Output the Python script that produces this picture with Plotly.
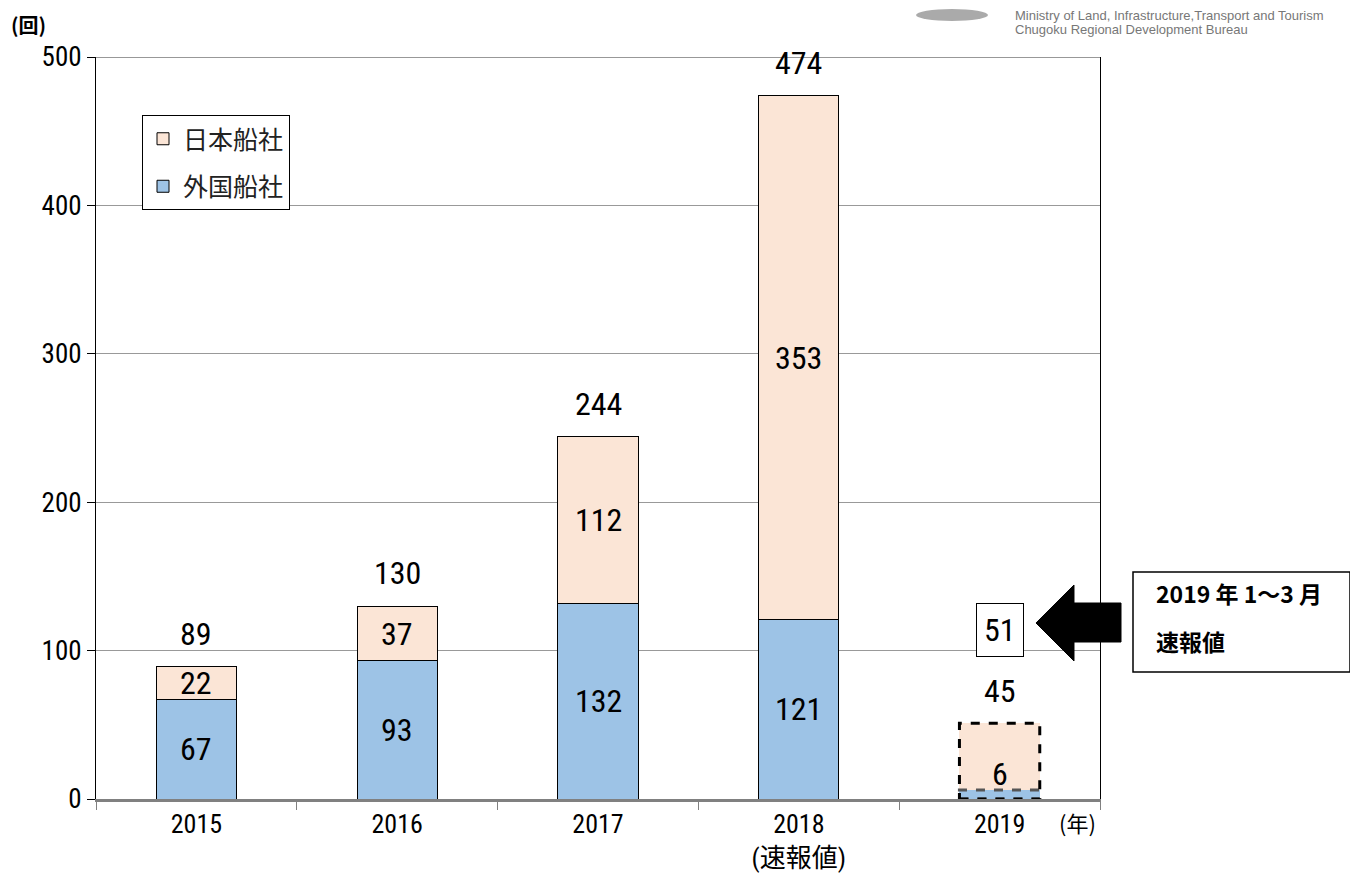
import plotly.graph_objects as go

# ---- data ----
years = ["2015", "2016", "2017", "2018", "2019"]
tick_labels = ["2015", "2016", "2017", "2018<br>(速報値)", "2019"]
foreign = [67, 93, 132, 121, 6]
japanese = [22, 37, 112, 353, 45]
totals = [89, 130, 244, 474, 51]
series_names = ["外国船社", "日本船社"]

BLUE = "#9DC3E6"
PEACH = "#FBE5D6"
NUM_FONT = "Liberation Sans Narrow, Roboto Condensed, DejaVu Sans Condensed, Noto Sans CJK JP"
JP_FONT = "Noto Sans CJK JP"

# page has an 8px body margin; work in page pixels and convert
OFF = 8
PAGE_W, PAGE_H = 1358, 881
W, H = PAGE_W - OFF, PAGE_H - OFF
L, R, T, B = 96, 1100, 57, 799  # plot area in page pixels
def px(xp):
    return (xp - L) / (R - L)
def py(yp):
    return (B - yp) / (B - T)

fig = go.Figure()
line_w = [1, 1, 1, 1, 0]
fig.add_trace(go.Bar(x=years, y=foreign, name=series_names[0], legendrank=2, legendgroup="f",
                     marker=dict(color=BLUE, line=dict(color="black", width=line_w)), width=0.4))
fig.add_trace(go.Bar(x=years, y=japanese, name=series_names[1], legendrank=1, legendgroup="j",
                     marker=dict(color=PEACH, line=dict(color="black", width=line_w)), width=0.4))

ann = []
n = len(years)
lab_font = dict(size=32, family=NUM_FONT, color="black")
for i in range(n):
    last = (i == n - 1)
    fy = foreign[i] / 2
    jy = foreign[i] + japanese[i] / 2
    if last:
        fy = foreign[i] + 11  # label lifted above tiny segment
        jy = totals[i] + 22   # label placed above bar
    ann.append(dict(x=i, y=fy, text=str(foreign[i]), showarrow=False, font=lab_font))
    ann.append(dict(x=i, y=jy, text=str(japanese[i]), showarrow=False, font=lab_font))
    if last:
        ann.append(dict(x=i, y=totals[i] + 63, text=str(totals[i]), showarrow=False, font=lab_font,
                        bordercolor="black", borderwidth=1, borderpad=7, bgcolor="white"))
    else:
        ann.append(dict(x=i, y=totals[i], yshift=33, text=str(totals[i]), showarrow=False, font=lab_font))

# unit labels
ann.append(dict(xref="paper", yref="paper", x=px(9), y=py(25), xanchor="left", yanchor="middle",
                text="<b>(回)</b>", showarrow=False, font=dict(size=20, family=JP_FONT, color="black")))
ann.append(dict(xref="paper", yref="paper", x=px(1077), y=py(822), xanchor="center", yanchor="middle",
                text="(年)", showarrow=False, font=dict(size=22, family=JP_FONT, color="black")))
# callout text
ann.append(dict(xref="paper", yref="paper", x=px(1154), y=py(593), xanchor="left", yanchor="middle",
                text="<b>2019 年 1～3 月</b>", showarrow=False, font=dict(size=23, family=JP_FONT, color="black")))
ann.append(dict(xref="paper", yref="paper", x=px(1154), y=py(641), xanchor="left", yanchor="middle",
                text="<b>速報値</b>", showarrow=False, font=dict(size=23, family=JP_FONT, color="black")))
# header text
ann.append(dict(xref="paper", yref="paper", x=px(1013), y=py(15), xanchor="left", yanchor="middle",
                text="Ministry of Land, Infrastructure,Transport and Tourism", showarrow=False,
                font=dict(size=13, family="Liberation Sans, Arial", color="#777777")))
ann.append(dict(xref="paper", yref="paper", x=px(1013), y=py(29), xanchor="left", yanchor="middle",
                text="Chugoku Regional Development Bureau", showarrow=False,
                font=dict(size=13, family="Liberation Sans, Arial", color="#777777")))

shapes = []
shapes.append(dict(type="line", xref="paper", yref="y", x0=0, x1=1, y0=500, y1=500, line=dict(color="#333333", width=1)))
idx = n - 1
shapes.append(dict(type="rect", xref="x", yref="y", x0=idx - 0.2, x1=idx + 0.2, y0=0, y1=foreign[idx],
                   line=dict(color="#555555", width=3, dash="dash")))
shapes.append(dict(type="rect", xref="x", yref="y", x0=idx - 0.2, x1=idx + 0.2, y0=0, y1=totals[idx],
                   line=dict(color="black", width=3, dash="dash")))
arrow_pts = [(1036, 623), (1074, 585), (1074, 603), (1121, 603), (1121, 642), (1074, 642), (1074, 661)]
path = "M " + " L ".join(f"{px(a):.5f},{py(b):.5f}" for a, b in arrow_pts) + " Z"
shapes.append(dict(type="path", xref="paper", yref="paper", path=path, fillcolor="black", line=dict(color="black", width=1)))
shapes.append(dict(type="rect", xref="paper", yref="paper", x0=px(1133), x1=px(1350), y0=py(672), y1=py(572),
                   line=dict(color="black", width=1.5), fillcolor="rgba(0,0,0,0)"))
shapes.append(dict(type="circle", xref="paper", yref="paper", x0=px(916), x1=px(988), y0=py(21), y1=py(9),
                   fillcolor="#AAAAAA", line=dict(width=0)))

fig.update_layout(
    width=W, height=H,
    margin=dict(l=L - OFF, r=PAGE_W - R, t=T - OFF, b=PAGE_H - B),
    barmode="stack",
    plot_bgcolor="white", paper_bgcolor="white",
    font=dict(family=NUM_FONT, size=22, color="black"),
    showlegend=True,
    legend=dict(x=px(142), y=py(115), xanchor="left", yanchor="top", traceorder="grouped",
                bordercolor="black", borderwidth=1, bgcolor="white", tracegroupgap=12,
                font=dict(size=25, family=JP_FONT, color="#222222"), itemwidth=30),
    annotations=ann,
    shapes=shapes,
)
fig.update_xaxes(type="category", tickmode="array", tickvals=years, ticktext=tick_labels,
                 tickson="boundaries", ticks="outside", ticklen=8, tickcolor="#808080",
                 showline=True, linecolor="#808080", linewidth=3, showgrid=False, automargin=False,
                 tickfont=dict(size=26, family=NUM_FONT), range=[-0.5, 4.5])
fig.update_yaxes(range=[0, 500], dtick=100, ticks="outside", ticklen=8, tickcolor="black",
                 showline=True, linecolor="black", linewidth=1, mirror=True, automargin=False,
                 showgrid=True, gridcolor="#999999", gridwidth=1, zeroline=False,
                 tickfont=dict(size=27, family=NUM_FONT))

fig.write_html("out.html")
